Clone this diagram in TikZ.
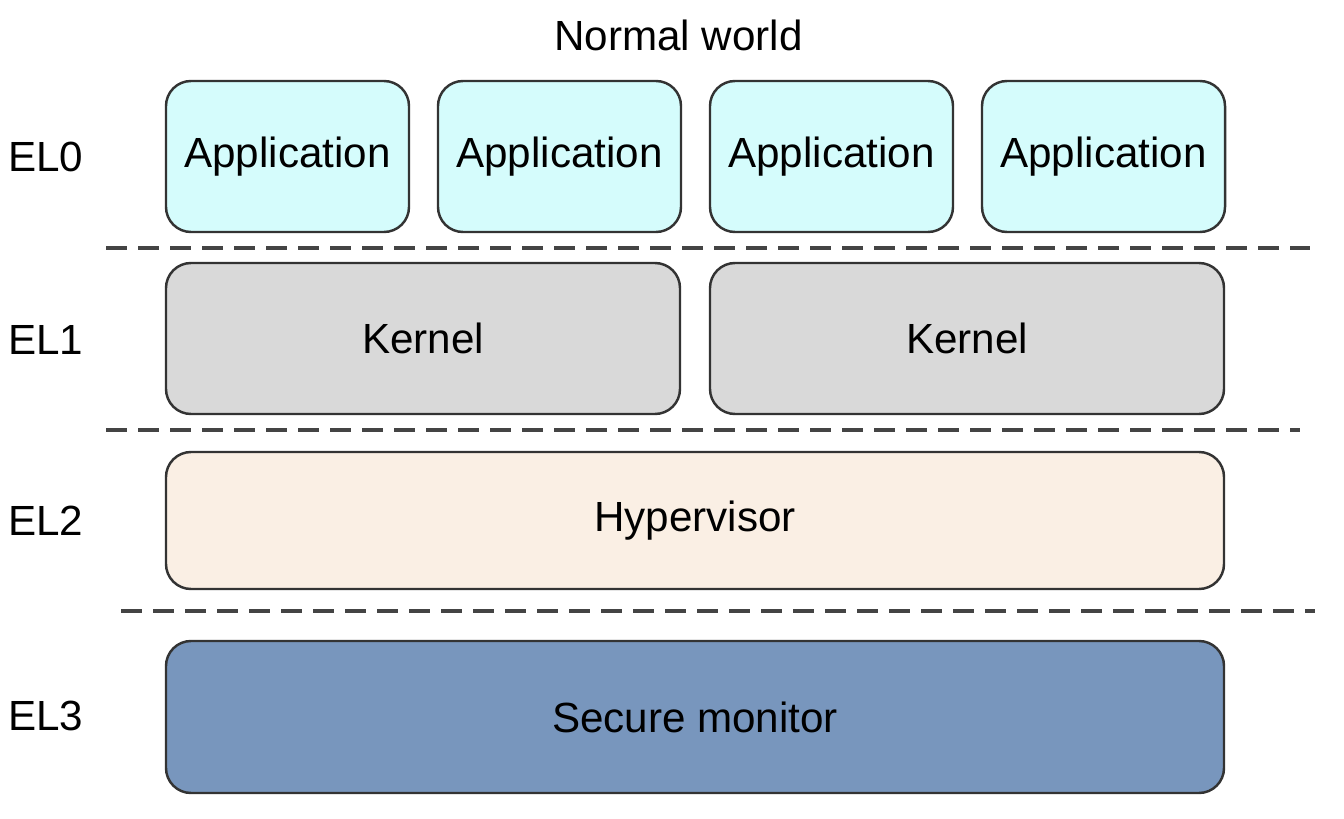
\documentclass[tikz,border=0pt]{standalone}
\usepackage{fontspec}
\setmainfont{Liberation Sans}
\usepackage{tikz}
\usetikzlibrary{positioning}
\definecolor{appfill}{HTML}{D5FCFC}
\definecolor{kernfill}{HTML}{D9D9D9}
\definecolor{hypfill}{HTML}{FAEFE4}
\definecolor{monfill}{HTML}{7896BD}
\definecolor{edge}{HTML}{333333}
\definecolor{sepline}{HTML}{444444}
\tikzset{
  elbox/.style={draw=edge, line width=1.4pt, rounded corners=0.5cm, inner sep=0pt},
  sep/.style={sepline, line width=2.1pt, dash pattern=on 0.42cm off 0.22cm},
  lvl/.style={anchor=west, inner sep=0pt}
}

\begin{document}
\begin{tikzpicture}[font=\fontsize{24}{28}\selectfont]
\useasboundingbox (0,0) rectangle (26.88,16.36);
\node (title) at (13.57,15.66) {Normal world};
% exception levels
\node[lvl] (el0) at (0.16,13.23) {EL0};
\node[lvl] (el1) at (0.16,9.56) {EL1};
\node[lvl] (el2) at (0.16,5.94) {EL2};
\node[lvl] (el3) at (0.16,2.04) {EL3};
\foreach \x [count=\i] in {5.75,11.19,16.63,22.07}
  \node[elbox, fill=appfill, minimum width=4.86cm, minimum height=3.02cm] (app\i) at (\x,13.23) {Application};
\node[elbox, fill=kernfill, minimum width=10.28cm, minimum height=3.02cm] (kern1) at (8.46,9.59) {Kernel};
\node[elbox, fill=kernfill, minimum width=10.28cm, minimum height=3.02cm] (kern2) at (19.34,9.59) {Kernel};
\node[elbox, fill=hypfill, minimum width=21.16cm, minimum height=2.74cm] (hyp) at (13.9,5.95) {Hypervisor};
\node[elbox, fill=monfill, minimum width=21.16cm, minimum height=3.04cm] (mon) at (13.9,2.02) {Secure monitor};
% separators
\draw[sep] (2.12,11.40) -- (26.2,11.40);
\draw[sep] (2.12,7.76) -- (26.0,7.76);
\draw[sep] (2.42,4.14) -- (26.3,4.14);
\end{tikzpicture}
\end{document}
